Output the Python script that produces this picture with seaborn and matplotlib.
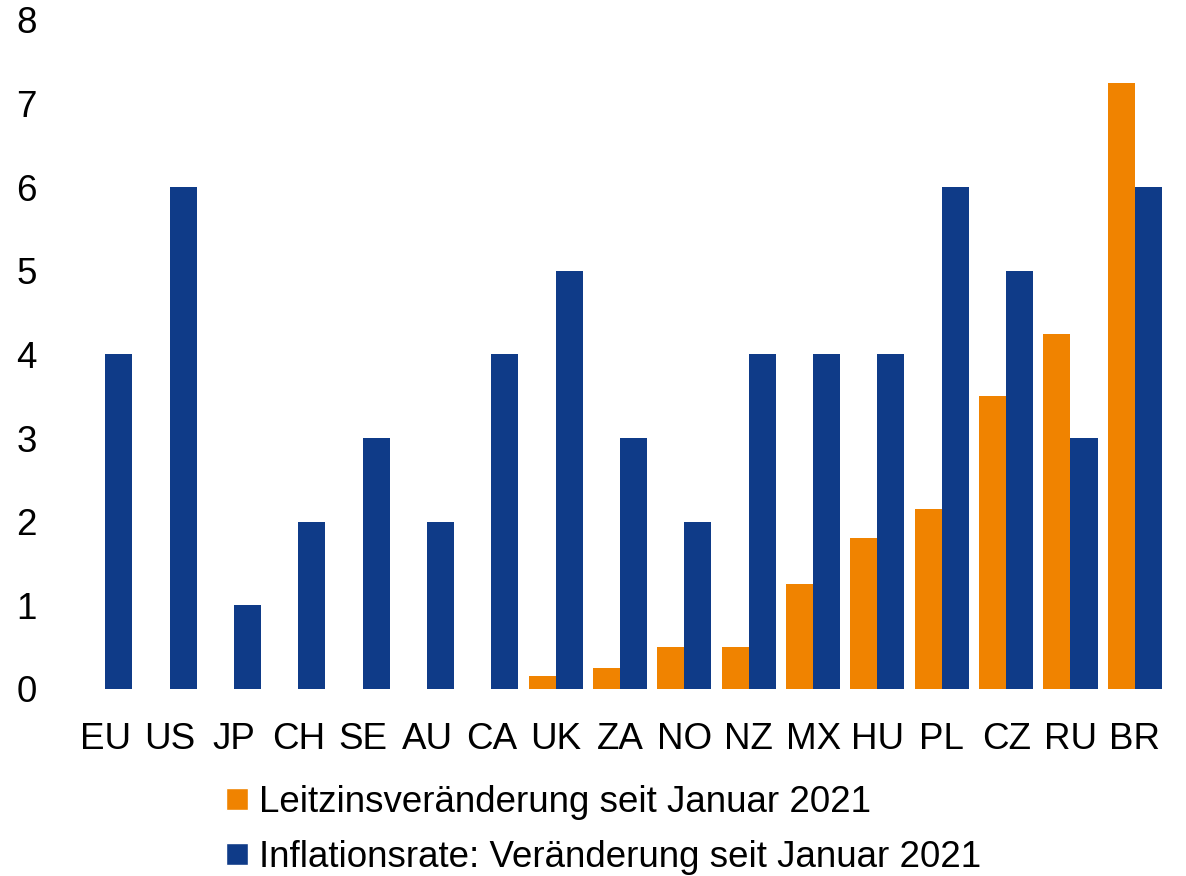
import pandas as pd
import numpy as np
import seaborn as sns
import matplotlib.pyplot as plt
from matplotlib.lines import Line2D

sns.set_style("white")
plt.rcParams["font.family"] = ["Liberation Sans", "DejaVu Sans"]
plt.rcParams["text.color"] = "black"

countries = ["EU", "US", "JP", "CH", "SE", "AU", "CA", "UK", "ZA",
             "NO", "NZ", "MX", "HU", "PL", "CZ", "RU", "BR"]
leitzins = [0, 0, 0, 0, 0, 0, 0, 0.15, 0.25, 0.5, 0.5, 1.25, 1.8, 2.15, 3.5, 4.25, 7.25]
inflation = [4, 6, 1, 2, 3, 2, 4, 5, 3, 2, 4, 4, 4, 6, 5, 3, 6]

lbl_zins = "Leitzinsveränderung seit Januar 2021"
lbl_infl = "Inflationsrate: Veränderung seit Januar 2021"
orange = "#F08300"
blue = "#0F3B88"

df = pd.DataFrame({
    "land": countries * 2,
    "wert": leitzins + inflation,
    "serie": [lbl_zins] * len(countries) + [lbl_infl] * len(countries),
})

fig = plt.figure(figsize=(11.86, 8.76), dpi=100)
ax = fig.add_axes([0.0616, 0.2135, 0.9224, 0.7637])
sns.barplot(data=df, x="land", y="wert", hue="serie", ax=ax,
            palette=[orange, blue], width=0.84, linewidth=0,
            saturation=1, legend=False)

ax.set_ylim(0, 8)
ax.set_xlim(-0.5, len(countries) - 0.5)
ax.set_yticks(range(0, 9))
ax.set_xlabel("")
ax.set_ylabel("")
ax.tick_params(axis="both", length=0, labelsize=26.5, colors="black")
ax.tick_params(axis="y", pad=26)
ax.tick_params(axis="x", pad=24)
sns.despine(ax=ax, left=True, bottom=True)

handles = [Line2D([], [], marker="s", color="w", markerfacecolor=c,
                  markersize=16, linestyle="") for c in (orange, blue)]
leg = fig.legend(handles, [lbl_zins, lbl_infl], loc="upper left",
                 bbox_to_anchor=(0.172, 0.121), frameon=False, fontsize=26.5,
                 handletextpad=0.1, labelspacing=0.55, handlelength=1.0,
                 borderaxespad=0)
for t in leg.get_texts():
    t.set_color("black")

fig.savefig("out.png", dpi=100)
